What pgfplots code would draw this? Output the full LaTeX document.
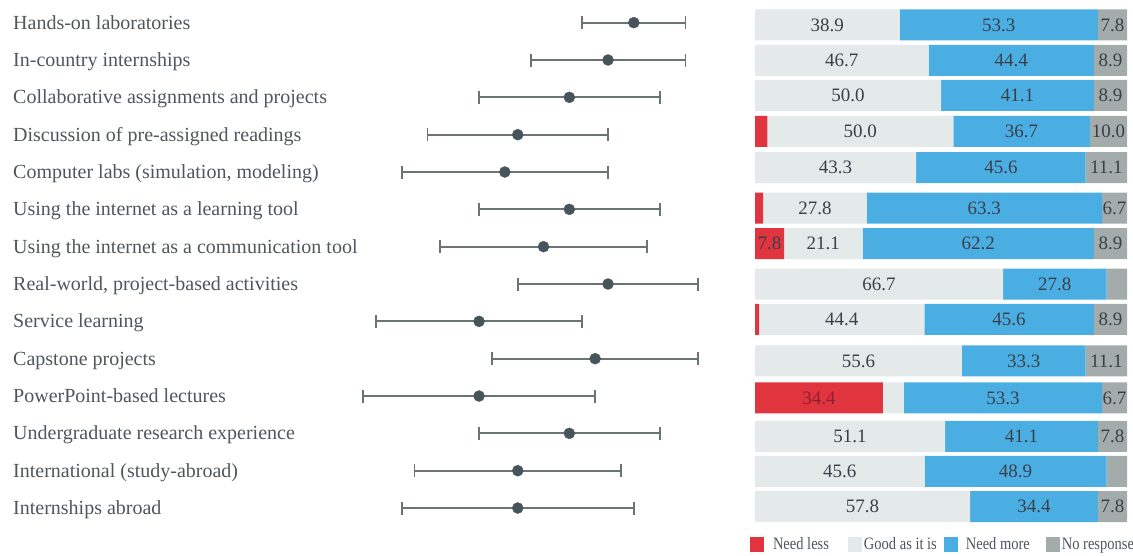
\documentclass[border=0pt]{standalone}
\usepackage{pgfplots}
\usepackage{pgfplotstable}
\pgfplotsset{compat=1.18}
\usepackage{fontspec}
\setmainfont{Liberation Serif}
\definecolor{cless}{HTML}{E0343F}
\definecolor{cgood}{HTML}{E4EAE9}
\definecolor{cmore}{HTML}{4BAEE3}
\definecolor{cnone}{HTML}{A4ACAB}
\definecolor{cdot}{HTML}{46555A}
\definecolor{cbar}{HTML}{6A7475}
\definecolor{clab}{HTML}{4F565C}
\definecolor{cnum}{HTML}{3A3F4A}
\definecolor{cnumred}{HTML}{8E2030}

\pgfplotstableread{
y     less good more none
1.06  0    38.9 53.3 7.8
2.01  0    46.7 44.4 8.9
2.95  0    50.0 41.1 8.9
3.91  3.3  50.0 36.7 10.0
4.88  0    43.3 45.6 11.1
5.97  2.2  27.8 63.3 6.7
6.92  7.8  21.1 62.2 8.9
8.00  0    66.7 27.8 5.5
8.95  1.1  44.4 45.6 8.9
10.06 0    55.6 33.3 11.1
11.05 34.4 5.6  53.3 6.7
12.08 0    51.1 41.1 7.8
13.02 0    45.6 48.9 5.5
13.96 0    57.8 34.4 7.8
}\bars

\pgfplotstableread{
x     y     lab
19.45 1.06  38.9
65.55 1.06  53.3
96.10 1.06  7.8
23.35 2.01  46.7
68.90 2.01  44.4
95.55 2.01  8.9
25.00 2.95  50.0
70.55 2.95  41.1
95.55 2.95  8.9
28.30 3.91  50.0
71.65 3.91  36.7
95.00 3.91  10.0
21.65 4.88  43.3
66.10 4.88  45.6
94.45 4.88  11.1
16.10 5.97  27.8
61.65 5.97  63.3
96.65 5.97  6.7
3.90  6.92  7.8
18.35 6.92  21.1
60.00 6.92  62.2
95.55 6.92  8.9
33.35 8.00  66.7
80.60 8.00  27.8
23.30 8.95  44.4
68.30 8.95  45.6
95.55 8.95  8.9
27.80 10.06 55.6
72.25 10.06 33.3
94.45 10.06 11.1
66.65 11.05 53.3
96.65 11.05 6.7
25.55 12.08 51.1
71.65 12.08 41.1
96.10 12.08 7.8
22.80 13.02 45.6
70.05 13.02 48.9
28.90 13.96 57.8
75.00 13.96 34.4
96.10 13.96 7.8
}\labs

\pgfplotstableread{
x     y     lab
17.20 11.05 34.4
}\labsred

\pgfplotstableread{
row x  e
1   21 4
2   19 6
3   16 7
4   12 7
5   11 8
6   16 7
7   14 8
8   19 7
9   9  8
10  18 8
11  9  9
12  16 7
13  12 8
14  12 9
}\dots

\begin{document}
\begin{tikzpicture}
\useasboundingbox (0,0) rectangle (1133pt,556pt);
% ---------- dot plot ----------
\begin{axis}[
  at={(363pt,29.3pt)}, anchor=south west,
  width=335.3pt, height=522.7pt, scale only axis,
  xmin=0, xmax=26, ymin=0.5, ymax=14.5, y dir=reverse,
  axis line style={draw=none}, tick style={draw=none},
  xtick=\empty, ytick={1,...,14},
  yticklabels={Hands-on laboratories, In-country internships, Collaborative assignments and projects, Discussion of pre-assigned readings, {Computer labs (simulation, modeling)}, Using the internet as a learning tool, Using the internet as a communication tool, {Real-world, project-based activities}, Service learning, Capstone projects, PowerPoint-based lectures, Undergraduate research experience, International (study-abroad), Internships abroad},
  yticklabel style={anchor=base west, inner sep=0pt, xshift=-350pt, yshift=-6.6pt, font=\fontsize{20}{22}\selectfont, text=clab},
  clip=false,
]
\addplot[only marks, mark=*, mark size=5.5pt, mark options={fill=cdot, draw=cdot},
  error bars/.cd, x dir=both, x explicit,
  error bar style={line width=1.8pt, cbar},
  error mark options={mark size=6.5pt, line width=1.8pt, cbar, rotate=90}]
  table[x=x, y=row, x error=e] {\dots};
\end{axis}
% ---------- stacked bars ----------
\begin{axis}[
  at={(755pt,29.3pt)}, anchor=south west,
  width=372pt, height=522.7pt, scale only axis,
  xmin=0, xmax=100, ymin=0.5, ymax=14.5, y dir=reverse,
  xbar stacked, bar width=31pt,
  hide axis,
  legend columns=4,
  legend style={draw=none, fill=none, inner sep=0pt, outer sep=0pt, anchor=west,
    at={(axis description cs:-0.01344,-0.0341)},
    font=\fontsize{14.5}{16}\selectfont, text=clab,
    nodes={inner sep=0pt, yscale=1.2},
    /tikz/column 1/.style={column sep=9pt},
    /tikz/column 2/.style={column sep=19pt},
    /tikz/column 3/.style={column sep=2pt},
    /tikz/column 4/.style={column sep=7pt},
    /tikz/column 5/.style={column sep=8pt},
    /tikz/column 6/.style={column sep=16pt},
    /tikz/column 7/.style={column sep=2pt}},
  legend cell align=left,
]
\addplot[fill=cless, draw=none, legend image code/.code={\fill[cless] (0pt,-7.5pt) rectangle (14pt,7.5pt);}] table[x=less, y=y] {\bars};
\addplot[fill=cgood, draw=none, legend image code/.code={\fill[cgood] (0pt,-7.5pt) rectangle (14pt,7.5pt);}] table[x=good, y=y] {\bars};
\addplot[fill=cmore, draw=none, legend image code/.code={\fill[cmore] (0pt,-7.5pt) rectangle (14pt,7.5pt);}] table[x=more, y=y] {\bars};
\addplot[fill=cnone, draw=none, legend image code/.code={\fill[cnone] (0pt,-7.5pt) rectangle (14pt,7.5pt);}] table[x=none, y=y] {\bars};
\legend{Need less, Good as it is, Need more, No response}
\end{axis}
% ---------- value labels ----------
\begin{axis}[
  at={(755pt,29.3pt)}, anchor=south west,
  width=372pt, height=522.7pt, scale only axis,
  xmin=0, xmax=100, ymin=0.5, ymax=14.5, y dir=reverse,
  hide axis, clip=false,
]
\addplot[only marks, mark=*, mark size=0pt, mark options={draw=none, fill=none},
  nodes near coords, point meta=explicit symbolic,
  every node near coord/.append style={anchor=center, inner sep=0pt, font=\fontsize{19}{21}\selectfont, text=cnum}]
  table[x=x, y=y, meta=lab] {\labs};
\addplot[only marks, mark=*, mark size=0pt, mark options={draw=none, fill=none},
  nodes near coords, point meta=explicit symbolic,
  every node near coord/.append style={anchor=center, inner sep=0pt, font=\fontsize{19}{21}\selectfont, text=cnumred}]
  table[x=x, y=y, meta=lab] {\labsred};
\end{axis}
\end{tikzpicture}
\end{document}
